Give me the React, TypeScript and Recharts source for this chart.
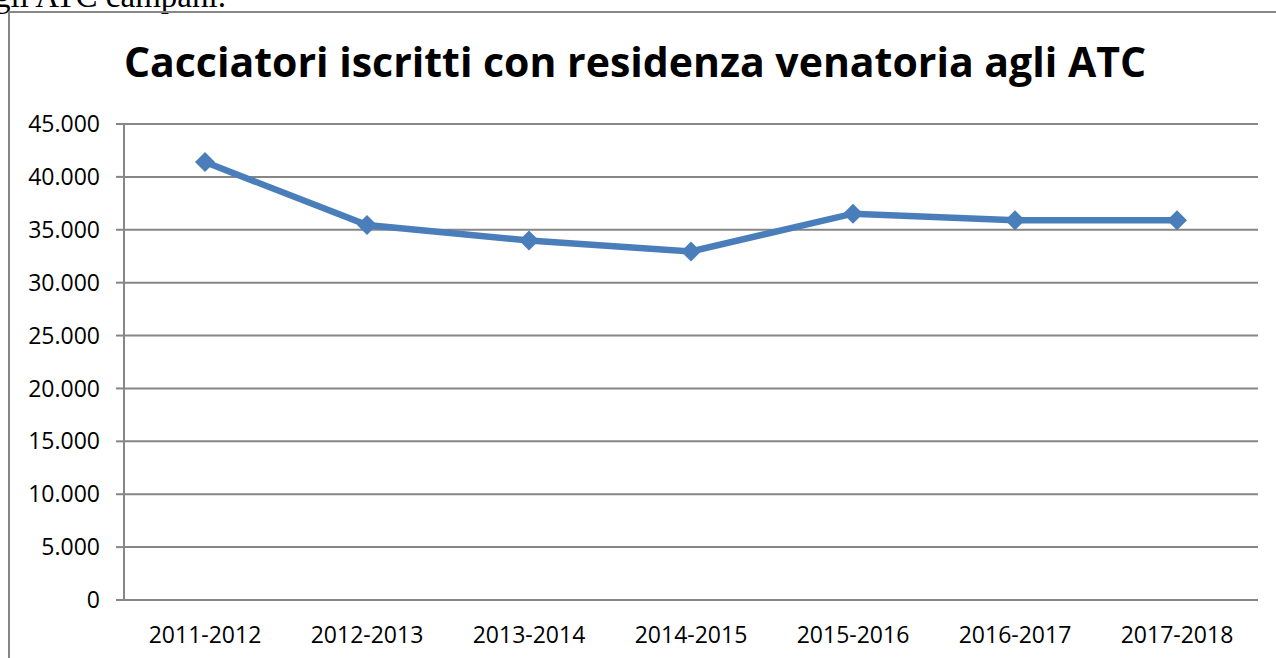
import { LineChart, Line, XAxis, YAxis, CartesianGrid } from 'recharts';

const SEASONS = ['2011-2012', '2012-2013', '2013-2014', '2014-2015', '2015-2016', '2016-2017', '2017-2018'];
const HUNTERS = [41400, 35450, 33980, 32950, 36520, 35900, 35900];
const Y_TICKS = [0, 5000, 10000, 15000, 20000, 25000, 30000, 35000, 40000, 45000];
const BOUNDARY_TICKS = [0, 1, 2, 3, 4, 5, 6, 7];

const GRAY = "#868686";
const BLUE = "#4A7EBB";
const FONT = "'Open Sans', 'Noto Sans', sans-serif";

const data = SEASONS.map((season, i) => ({ season, value: HUNTERS[i] }));

// Italian thousand separator: 45000 -> 45.000
const formatIt = (v: number) => String(v).replace(/\B(?=(\d{3})+(?!\d))/g, '.');

const Diamond = (props: any) => {
    const { cx, cy } = props;
    if (cx == null || cy == null) return null;
    const r = 10;
    return (
        <polygon
            points={`${cx},${cy - r} ${cx + r},${cy} ${cx},${cy + r} ${cx - r},${cy}`}
            fill={BLUE}
        />
    );
};

export default function App() {
    return (
        <div style={{ position: 'fixed', left: 0, top: 0, width: 1276, height: 658, overflow: 'hidden', background: '#fff' }}>
            {/* tail of the document text above the chart */}
            <div style={{
                position: 'absolute', left: -6, top: -22, fontFamily: "'Liberation Serif', serif",
                fontSize: 33, lineHeight: 'normal', whiteSpace: 'nowrap', color: '#000'
            }}>
                gli ATC campani.
            </div>

            <div style={{
                position: 'absolute', left: 8, top: 11, width: 1300, height: 700,
                border: `2px solid ${GRAY}`, boxSizing: 'border-box'
            }} />

            <svg width={1276} height={658} style={{ position: 'absolute', left: 0, top: 0 }}>
                <text x={635} y={77} textAnchor="middle" fontFamily={FONT} fontWeight={700} fontSize={41} fill="#000">
                    Cacciatori iscritti con residenza venatoria agli ATC
                </text>
            </svg>

            <div style={{ position: 'absolute', left: 0, top: 0 }}>
                <LineChart width={1276} height={658} data={data} margin={{ top: 124, right: 18, bottom: 0, left: 0 }}>
                    <CartesianGrid vertical={false} stroke={GRAY} strokeWidth={2} />
                    <XAxis
                        xAxisId="bounds"
                        type="number"
                        domain={[0, 7]}
                        allowDataOverflow
                        ticks={BOUNDARY_TICKS}
                        tick={false}
                        tickSize={8}
                        tickLine={{ stroke: GRAY, strokeWidth: 2 }}
                        axisLine={false}
                        height={0}
                    />
                    <XAxis
                        dataKey="season"
                        padding={{ left: 81, right: 81 }}
                        interval={0}
                        tickLine={false}
                        tickSize={0}
                        tickMargin={27}
                        axisLine={{ stroke: GRAY, strokeWidth: 2 }}
                        tick={{ fill: '#000', fontSize: 23, fontFamily: FONT }}
                        height={58}
                    />
                    <YAxis
                        domain={[0, 45000]}
                        ticks={Y_TICKS}
                        interval={0}
                        width={124}
                        tickSize={8}
                        tickMargin={16}
                        tickFormatter={formatIt}
                        tickLine={{ stroke: GRAY, strokeWidth: 2 }}
                        axisLine={{ stroke: GRAY, strokeWidth: 2 }}
                        tick={{ fill: '#000', fontSize: 23, fontFamily: FONT }}
                    />
                    <Line
                        dataKey="value"
                        stroke={BLUE}
                        strokeWidth={6.5}
                        dot={<Diamond />}
                        activeDot={false}
                        isAnimationActive={false}
                    />
                </LineChart>
            </div>
        </div>
    );
}
